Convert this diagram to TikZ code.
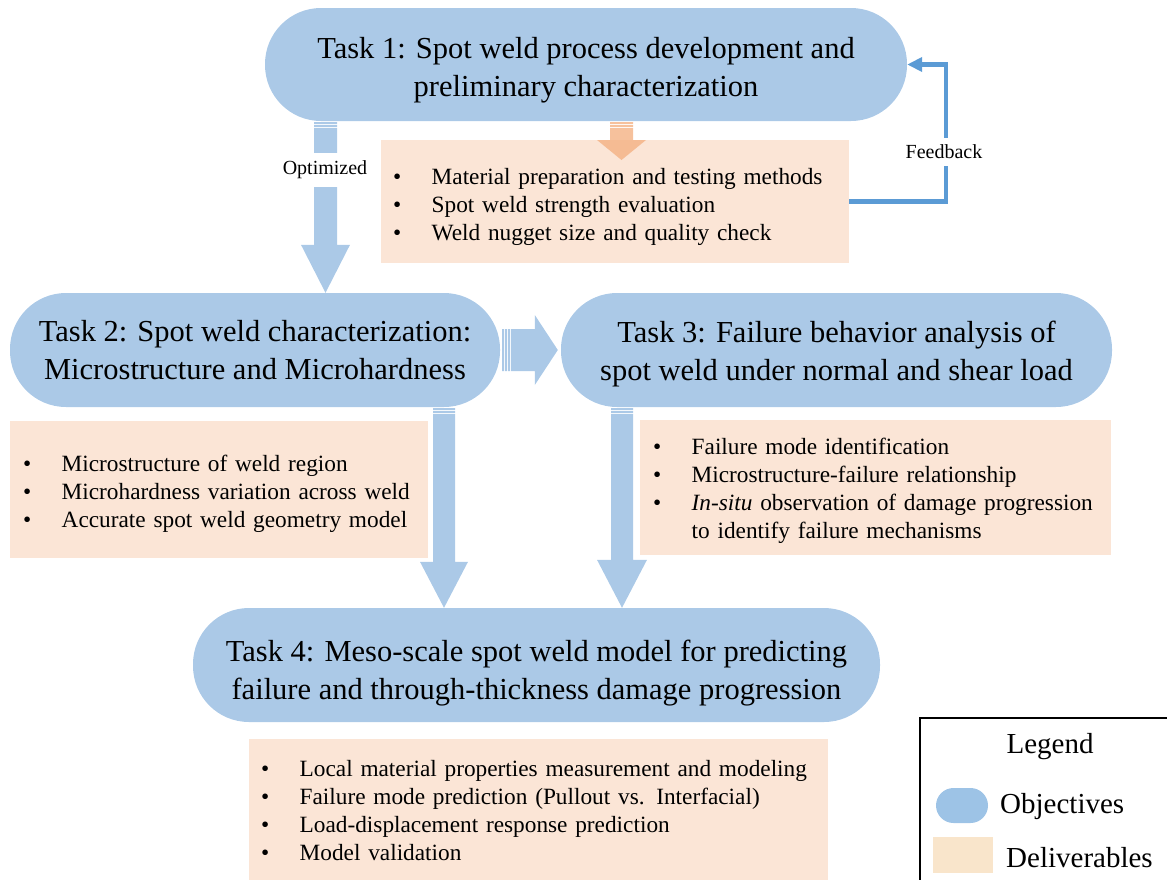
\documentclass[tikz,border=0pt]{standalone}
\usepackage{fontspec}
\setmainfont{Liberation Serif}
\usetikzlibrary{arrows.meta,calc}
\definecolor{obj}{RGB}{171,201,231}
\definecolor{deliv}{RGB}{251,229,214}
\definecolor{orng}{RGB}{244,177,131}
\definecolor{fb}{RGB}{91,155,213}
\definecolor{legobj}{RGB}{157,195,230}
\definecolor{legdel}{RGB}{249,229,203}
\newcommand\bitem[1]{\makebox[38.5pt][l]{\textbullet}#1}
\newcommand\topstrut[1]{\rule{0pt}{#1pt}}
% vertical striped block arrow: #1 start, #2 tip, #3 body half, #4 head half, #5 head length, #6 style
\newcommand\VArr[6]{%
\fill[#6] let \p1=#1, \p2=#2 in
 (\x2-#3pt,\y1-1pt) rectangle (\x2+#3pt,\y1-3pt)
 (\x2-#3pt,\y1-4pt) rectangle (\x2+#3pt,\y1-6pt)
 (\x2-#3pt,\y1-7pt) -- (\x2+#3pt,\y1-7pt) -- (\x2+#3pt,\y2+#5pt) -- (\x2+#4pt,\y2+#5pt)
 -- (\x2,\y2) -- (\x2-#4pt,\y2+#5pt) -- (\x2-#3pt,\y2+#5pt) -- cycle;}
% horizontal striped block arrow
\newcommand\HArr[6]{%
\fill[#6] let \p1=#1, \p2=#2 in
 (\x1+2pt,\y2-#3pt) rectangle (\x1+4pt,\y2+#3pt)
 (\x1+5pt,\y2-#3pt) rectangle (\x1+7pt,\y2+#3pt)
 (\x1+8pt,\y2-#3pt) rectangle (\x1+10pt,\y2+#3pt)
 (\x1+11pt,\y2-#3pt) -- (\x2-#5pt,\y2-#3pt) -- (\x2-#5pt,\y2-#4pt) -- (\x2,\y2)
 -- (\x2-#5pt,\y2+#4pt) -- (\x2-#5pt,\y2+#3pt) -- (\x1+11pt,\y2+#3pt) -- cycle;}
\begin{document}
\begin{tikzpicture}[x=1pt,y=-1pt,
 task/.style={fill=obj, draw=none, rounded corners=56pt, inner sep=0pt, align=center,
   font=\fontsize{30.5}{38}\selectfont},
 delbox/.style={fill=deliv, inner ysep=0pt, align=left, anchor=north west,
   font=\fontsize{23.3}{28}\selectfont},
 small/.style={font=\fontsize{20}{24}\selectfont, fill=white, inner xsep=2pt},
 legtxt/.style={font=\fontsize{29}{34}\selectfont, inner sep=0pt},
 blue arrow/.style={fill=obj},
 orange arrow/.style={fill=orng, fill opacity=0.8}]
\useasboundingbox (0,0) rectangle (1167,879);

% objectives
\node[task, minimum width=642pt, minimum height=113pt] (t1) at (586,64.5)
  {\topstrut{33}Task 1: Spot weld process development and\\preliminary characterization};
\node[task, minimum width=490pt, minimum height=114pt] (t2) at (255,350)
  {Task 2: Spot weld characterization:\\Microstructure and Microhardness};
\node[task, minimum width=551pt, minimum height=114pt] (t3) at (836.5,350)
  {\topstrut{30}Task 3: Failure behavior analysis of\\spot weld under normal and shear load};
\node[task, minimum width=687pt, minimum height=114pt] (t4) at (536.5,665)
  {\topstrut{37}Task 4: Meso-scale spot weld model for predicting\\failure and through-thickness damage progression};

% deliverables
\node[delbox, inner xsep=12pt, minimum width=468pt, text width=444pt, minimum height=123pt] (d1) at (381,140)
  {\topstrut{26}\bitem{Material preparation and testing methods}\\
   \bitem{Spot weld strength evaluation}\\
   \bitem{Weld nugget size and quality check}};
\node[delbox, inner xsep=13pt, minimum width=418pt, text width=392pt, minimum height=137pt] (d2) at (10,421)
  {\topstrut{24}\bitem{Microstructure of weld region}\\
   \bitem{Microhardness variation across weld}\\
   \bitem{Accurate spot weld geometry model}};
\node[delbox, inner xsep=13pt, minimum width=471pt, text width=445pt, minimum height=135pt] (d3) at (640,420)
  {\topstrut{23}\bitem{Failure mode identification}\\
   \bitem{Microstructure-failure relationship}\\
   \bitem{\textit{In-situ} observation of damage progression}\\
   \hspace*{38.5pt}to identify failure mechanisms};
\node[delbox, inner xsep=12pt, minimum width=579pt, text width=555pt, minimum height=142pt] (d4) at (249,739)
  {\bitem{Local material properties measurement and modeling}\\
   \bitem{Failure mode prediction (Pullout vs. Interfacial)}\\
   \bitem{Load-displacement response prediction}\\
   \bitem{Model validation}};

% block arrows
\VArr{(325.5,0 |- t1.south)}{(325.5,0 |- t2.north)}{11.5}{24.5}{48}{blue arrow}
\node[small, inner ysep=8pt] (opt) at (325,170) {Optimized};
\VArr{(621.5,0 |- t1.south)}{(621.5,160)}{11.5}{24.5}{20}{orange arrow}
\VArr{(444,0 |- t2.south)}{(444,0 |- t4.north)}{11}{24}{46}{blue arrow}
\VArr{(622,0 |- t3.south)}{(622,0 |- t4.north)}{11}{25}{48}{blue arrow}
\HArr{(t2.east)}{($(t3.west)+(-3,0)$)}{21}{35}{23}{blue arrow}

% feedback
\coordinate (fbr) at (946,0);
\draw[fb, line width=4.5pt, -{Triangle[length=15pt,width=14pt]}]
  (d1.east) -- (fbr |- d1.east) -- (fbr |- t1.east) -- (t1.east);
\node[small, inner ysep=7pt] (fbt) at (944,152) {Feedback};

% legend
\draw[line width=1.3pt] (920,718) rectangle (1172,884);
\node[legtxt] (lg) at (1050,747) {Legend};
\node[fill=legobj, minimum width=52pt, minimum height=35pt, rounded corners=17.5pt, inner sep=0pt] (lo) at (962,805.5) {};
\node[legtxt, anchor=west] (lot) at (1000,807) {Objectives};
\node[fill=legdel, minimum width=60pt, minimum height=36pt, inner sep=0pt] (ld) at (963,855) {};
\node[legtxt, anchor=west] (ldt) at (1006,858) {Deliverables};
\end{tikzpicture}
\end{document}
